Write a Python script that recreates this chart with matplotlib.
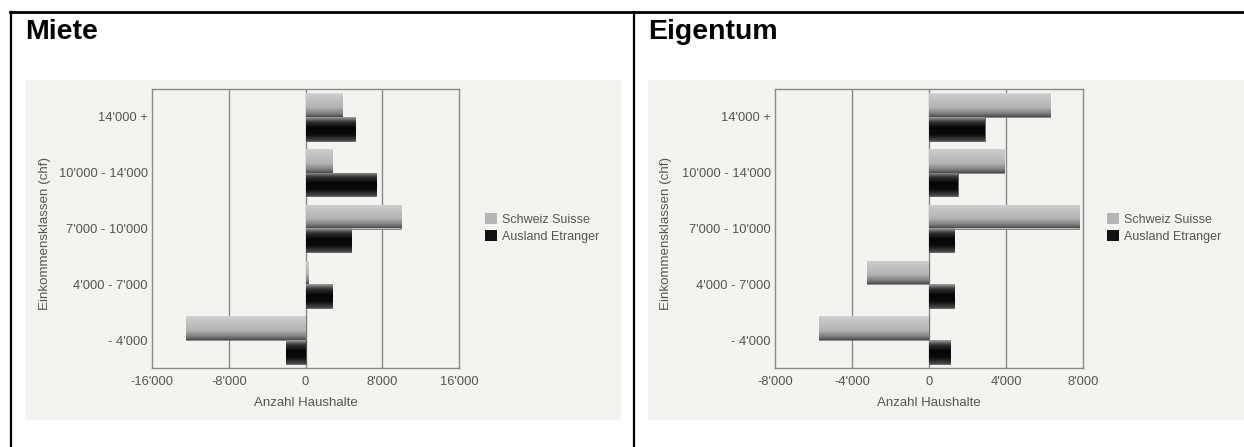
import numpy as np
import matplotlib
matplotlib.use('Agg')
import matplotlib.pyplot as plt
from matplotlib.patches import Rectangle, Patch
from matplotlib.lines import Line2D
from matplotlib.ticker import FuncFormatter

# data (number of households per income class)
categories = ["- 4'000", "4'000 - 7'000", "7'000 - 10'000", "10'000 - 14'000", "14'000 +"]
series_names = ['Schweiz Suisse', 'Ausland Etranger']

miete_schweiz = [-12500, 250, 10000, 2800, 3800]
miete_ausland = [-2000, 2800, 4700, 7300, 5200]

eigentum_schweiz = [-5700, -3200, 7800, 3900, 6300]
eigentum_ausland = [1100, 1300, 1300, 1500, 2900]

miete_ticks = [-16000, -8000, 0, 8000, 16000]
eigentum_ticks = [-8000, -4000, 0, 4000, 8000]

panel_titles = ['Miete', 'Eigentum']
xlabel = 'Anzahl Haushalte'
ylabel = 'Einkommensklassen (chf)'

W, H = 1244, 447
BG = '#f3f3ef'
TXT = '#555555'
FONT = ['Liberation Sans', 'DejaVu Sans']
plt.rcParams['font.family'] = FONT

fig = plt.figure(figsize=(W / 100, H / 100), dpi=100)
fig.patch.set_facecolor('white')


def fx(px):
    return px / W


def fy(py):
    return 1 - py / H


# table borders
fig.add_artist(Line2D([fx(10), fx(1244)], [fy(12), fy(12)], color='black', lw=2))
fig.add_artist(Line2D([fx(11), fx(11)], [fy(12), fy(447)], color='black', lw=1.6))
fig.add_artist(Line2D([fx(633.5), fx(633.5)], [fy(12), fy(447)], color='black', lw=1.6))

# light chart backgrounds
for x0, x1 in [(25, 621), (648, 1244)]:
    fig.add_artist(Rectangle((fx(x0), fy(420)), fx(x1 - x0), (420 - 80) / H,
                             facecolor=BG, edgecolor='none', zorder=0))

# vertical shading profiles (top -> bottom) for the bar gradients
t = np.linspace(0, 1, 64)
prof_schweiz = np.interp(t, [0, 0.15, 0.6, 0.85, 1.0], [0.82, 0.78, 0.70, 0.50, 0.30])
prof_ausland = np.interp(t, [0, 0.2, 0.45, 0.75, 1.0], [0.62, 0.20, 0.02, 0.05, 0.30])
profiles = [prof_schweiz, prof_ausland]
legend_colors = ['#b5b5b5', '#111111']


def fmt(v, pos):
    s = '{:,.0f}'.format(v).replace(',', "'")
    return s


def draw_panel(ax, schweiz, ausland, ticks):
    ax.set_facecolor(BG)
    y = np.arange(len(categories))
    h = 0.425
    for k, vals in enumerate([schweiz, ausland]):
        off = h / 2 if k == 0 else -h / 2
        bars = ax.barh(y + off, vals, height=h, color=legend_colors[k],
                       edgecolor='#555555', lw=0.4, zorder=3)
        img = np.repeat(profiles[k][:, None], 2, axis=1)
        for b in bars:
            x0, y0 = b.get_x(), b.get_y()
            w, hh = b.get_width(), b.get_height()
            im = ax.imshow(img, cmap='gray', vmin=0, vmax=1, aspect='auto',
                           extent=(x0, x0 + w, y0, y0 + hh), origin='upper',
                           interpolation='bilinear', zorder=3.5)
            im.set_clip_path(b)
    ax.set_xlim(ticks[0], ticks[-1])
    ax.set_ylim(-0.5, len(categories) - 0.5)
    ax.set_xticks(ticks)
    ax.xaxis.set_major_formatter(FuncFormatter(fmt))
    ax.set_yticks(y)
    ax.set_yticklabels(categories)
    ax.tick_params(length=0, labelsize=9.3, labelcolor=TXT, pad=6)
    ax.tick_params(axis='y', pad=3)
    for t_ in ticks[1:-1]:
        ax.axvline(t_, color='#8a8a8a', lw=1, zorder=1)
    for sp in ax.spines.values():
        sp.set_color('#8a8a8a')
        sp.set_linewidth(1)
    ax.set_xlabel(xlabel, fontsize=9.5, color=TXT, labelpad=6)


ax1 = fig.add_axes([fx(152), fy(368), fx(459 - 152), (368 - 89) / H])
draw_panel(ax1, miete_schweiz, miete_ausland, miete_ticks)
ax2 = fig.add_axes([fx(775), fy(368), fx(1083 - 775), (368 - 89) / H])
draw_panel(ax2, eigentum_schweiz, eigentum_ausland, eigentum_ticks)

# y labels (rotated, at fixed position)
fig.text(fx(45), fy(233), ylabel, rotation=90, ha='center', va='center', fontsize=9.6, color=TXT)
fig.text(fx(666), fy(233), ylabel, rotation=90, ha='center', va='center', fontsize=9.6, color=TXT)

# panel titles
fig.text(fx(25), fy(39), panel_titles[0], fontsize=20.5, fontweight='bold', color='black')
fig.text(fx(648), fy(39), panel_titles[1], fontsize=20.5, fontweight='bold', color='black')

# legends
handles = [Patch(facecolor=c, edgecolor='none') for c in legend_colors]
for lx in [479, 1101]:
    fig.legend(handles, series_names, loc='upper left', bbox_to_anchor=(fx(lx), fy(207)),
               frameon=False, fontsize=9, labelcolor=TXT, handlelength=0.9,
               handleheight=0.95, handletextpad=0.45, labelspacing=0.35, borderpad=0)

fig.savefig('out.png', dpi=100, facecolor='white')
